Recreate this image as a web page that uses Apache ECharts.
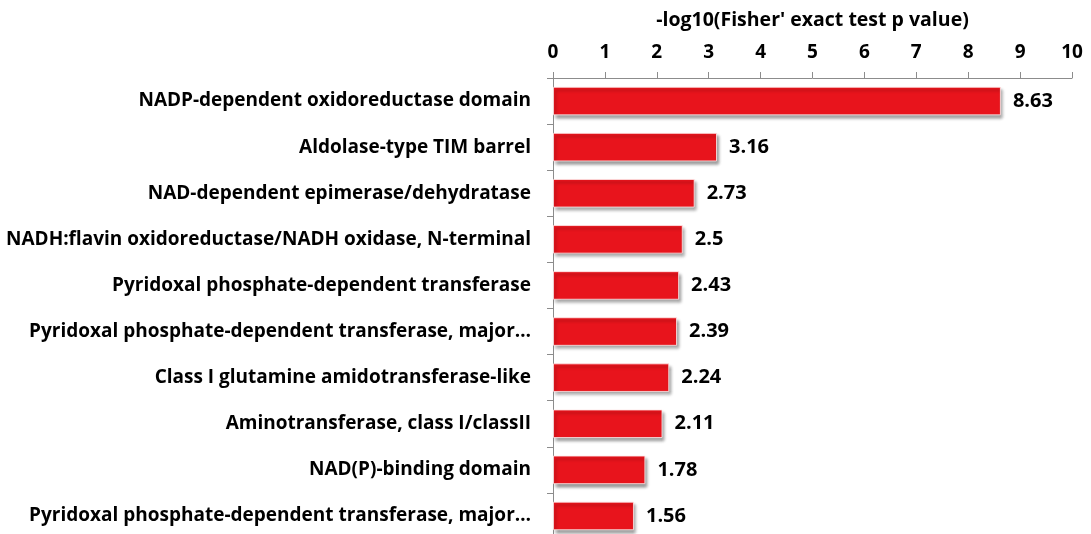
<!DOCTYPE html>
<html><head><meta charset="utf-8">
<script src="https://cdn.jsdelivr.net/npm/echarts@6/dist/echarts.min.js"></script>
<style>html,body{margin:0;padding:0;background:#fff}#c{width:1091px;height:534px}</style>
</head><body><div id="c"></div>
<script>
const categories = [
  "NADP-dependent oxidoreductase domain",
  "Aldolase-type TIM barrel",
  "NAD-dependent epimerase/dehydratase",
  "NADH:flavin oxidoreductase/NADH oxidase, N-terminal",
  "Pyridoxal phosphate-dependent transferase",
  "Pyridoxal phosphate-dependent transferase, major…",
  "Class I glutamine amidotransferase-like",
  "Aminotransferase, class I/classII",
  "NAD(P)-binding domain",
  "Pyridoxal phosphate-dependent transferase, major…"
];
const values = [8.63, 3.16, 2.73, 2.5, 2.43, 2.39, 2.24, 2.11, 1.78, 1.56];
const axisName = "-log10(Fisher' exact test p value)";

const FONT = 'Open Sans';
const chart = echarts.init(document.getElementById('c'), null, {renderer: 'canvas'});
chart.setOption({
  animation: false,
  backgroundColor: '#fff',
  grid: {left: 553, top: 78, right: 19, bottom: -5, containLabel: false, outerBoundsMode: 'none'},
  xAxis: {
    type: 'value', position: 'top', min: 0, max: 10, interval: 1,
    name: axisName, nameLocation: 'middle', nameGap: 48,
    nameTextStyle: {fontFamily: FONT, fontWeight: 'bold', fontSize: 19.5, color: '#000'},
    axisLine: {show: true, lineStyle: {color: '#8c8c8c', width: 1}},
    axisTick: {show: true, length: 6, lineStyle: {color: '#8c8c8c'}},
    axisLabel: {margin: 16, fontFamily: FONT, fontWeight: 'bold', fontSize: 19, color: '#000'},
    splitLine: {show: false}
  },
  yAxis: {
    type: 'category', data: categories, inverse: true,
    axisLine: {show: true, lineStyle: {color: '#8c8c8c', width: 1}},
    axisTick: {show: true, length: 6, lineStyle: {color: '#8c8c8c'}},
    axisLabel: {margin: 22, fontFamily: FONT, fontWeight: 'bold', fontSize: 19, color: '#000'}
  },
  series: [{
    type: 'bar', data: values, barWidth: '62%',
    itemStyle: {
      color: '#E8141C',
      borderColor: 'rgba(255,235,235,0.8)', borderWidth: 1,
      shadowColor: 'rgba(0,0,0,0.4)', shadowBlur: 3, shadowOffsetX: 2, shadowOffsetY: 3
    },
    label: {
      show: true, position: 'right', distance: 12,
      fontFamily: FONT, fontWeight: 'bold', fontSize: 20, color: '#000'
    }
  }]
});
</script></body></html>
